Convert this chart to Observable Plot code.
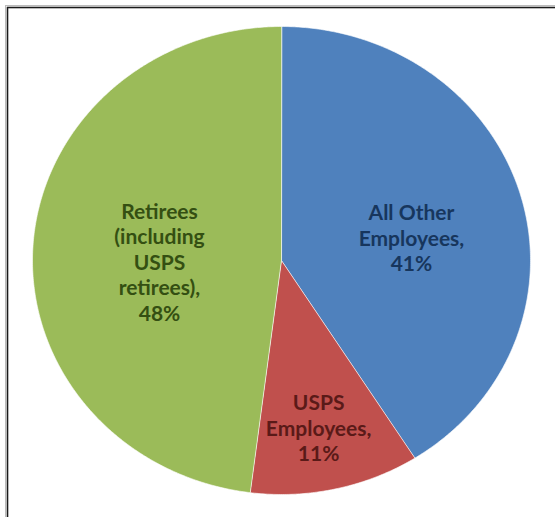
<!DOCTYPE html>
<html>
<head>
<meta charset="utf-8">
<script src="https://cdn.jsdelivr.net/npm/d3@7"></script>
<script src="https://cdn.jsdelivr.net/npm/@observablehq/plot@0.6"></script>
<style>
  html, body { margin: 0; padding: 0; background: #fff; }
  #chart svg { display: block; }
</style>
</head>
<body>
<div id="chart"></div>
<script>
// Data
const categories = ["All Other Employees", "USPS Employees", "Retirees (including USPS retirees)"];
const shares = [41, 11, 48];
const labelLines = [
  ["All Other", "Employees,", "41%"],
  ["USPS", "Employees,", "11%"],
  ["Retirees", "(including", "USPS", "retirees),", "48%"]
];

// Styles / label placement (radius fraction, position within slice's angular span)
const fills = ["#4F81BD", "#C0504D", "#9BBB59"];
const textFills = ["#17365D", "#5A1A18", "#344F12"];
const labelPlacement = [{r: 0.531, t: 0.538}, {r: 0.729, t: 0.52}, {r: 0.49, t: 0.476}];

// Build slice geometry (angles clockwise from 12 o'clock)
const total = d3.sum(shares);
const slices = [];
const labels = [];
let start = 0;
categories.forEach((name, i) => {
  const a0 = start / total * 2 * Math.PI;
  const a1 = (start + shares[i]) / total * 2 * Math.PI;
  start += shares[i];
  const n = Math.max(2, Math.ceil((a1 - a0) / (Math.PI / 360)));
  slices.push({name, x: 0, y: 0});
  for (let k = 0; k <= n; k++) {
    const a = a0 + (a1 - a0) * k / n;
    slices.push({name, x: Math.sin(a), y: Math.cos(a)});
  }
  const p = labelPlacement[i];
  const am = a0 + (a1 - a0) * p.t;
  labels.push({
    name,
    x: p.r * Math.sin(am),
    y: p.r * Math.cos(am),
    text: labelLines[i].join("\n")
  });
});

const chart = Plot.plot({
  width: 555,
  height: 517,
  marginLeft: 32,
  marginRight: 25,
  marginTop: 26,
  marginBottom: 23,
  x: {domain: [-1, 1], axis: null},
  y: {domain: [-1, 1], axis: null},
  color: {domain: categories, range: fills},
  style: {background: "#fff"},
  marks: [
    Plot.frame({stroke: "#bbb", strokeWidth: 1, insetTop: -21, insetLeft: -27, insetRight: -60, insetBottom: -60}),
    Plot.frame({stroke: "#1a1a1a", strokeWidth: 1.6, insetTop: -19, insetLeft: -25, insetRight: -60, insetBottom: -60}),
    Plot.line(slices, {
      x: "x", y: "y", z: "name", fill: "name",
      stroke: "#ffffff", strokeOpacity: 0.6, strokeWidth: 1,
      curve: "linear-closed"
    }),
    Plot.text(labels, {
      x: "x", y: "y", text: "text",
      fill: (d) => textFills[categories.indexOf(d.name)],
      fontSize: 21, fontWeight: 700, lineHeight: 1.21,
      fontFamily: "Lato, 'Open Sans', sans-serif",
      textAnchor: "middle"
    })
  ]
});
document.getElementById("chart").appendChild(chart);
</script>
</body>
</html>
